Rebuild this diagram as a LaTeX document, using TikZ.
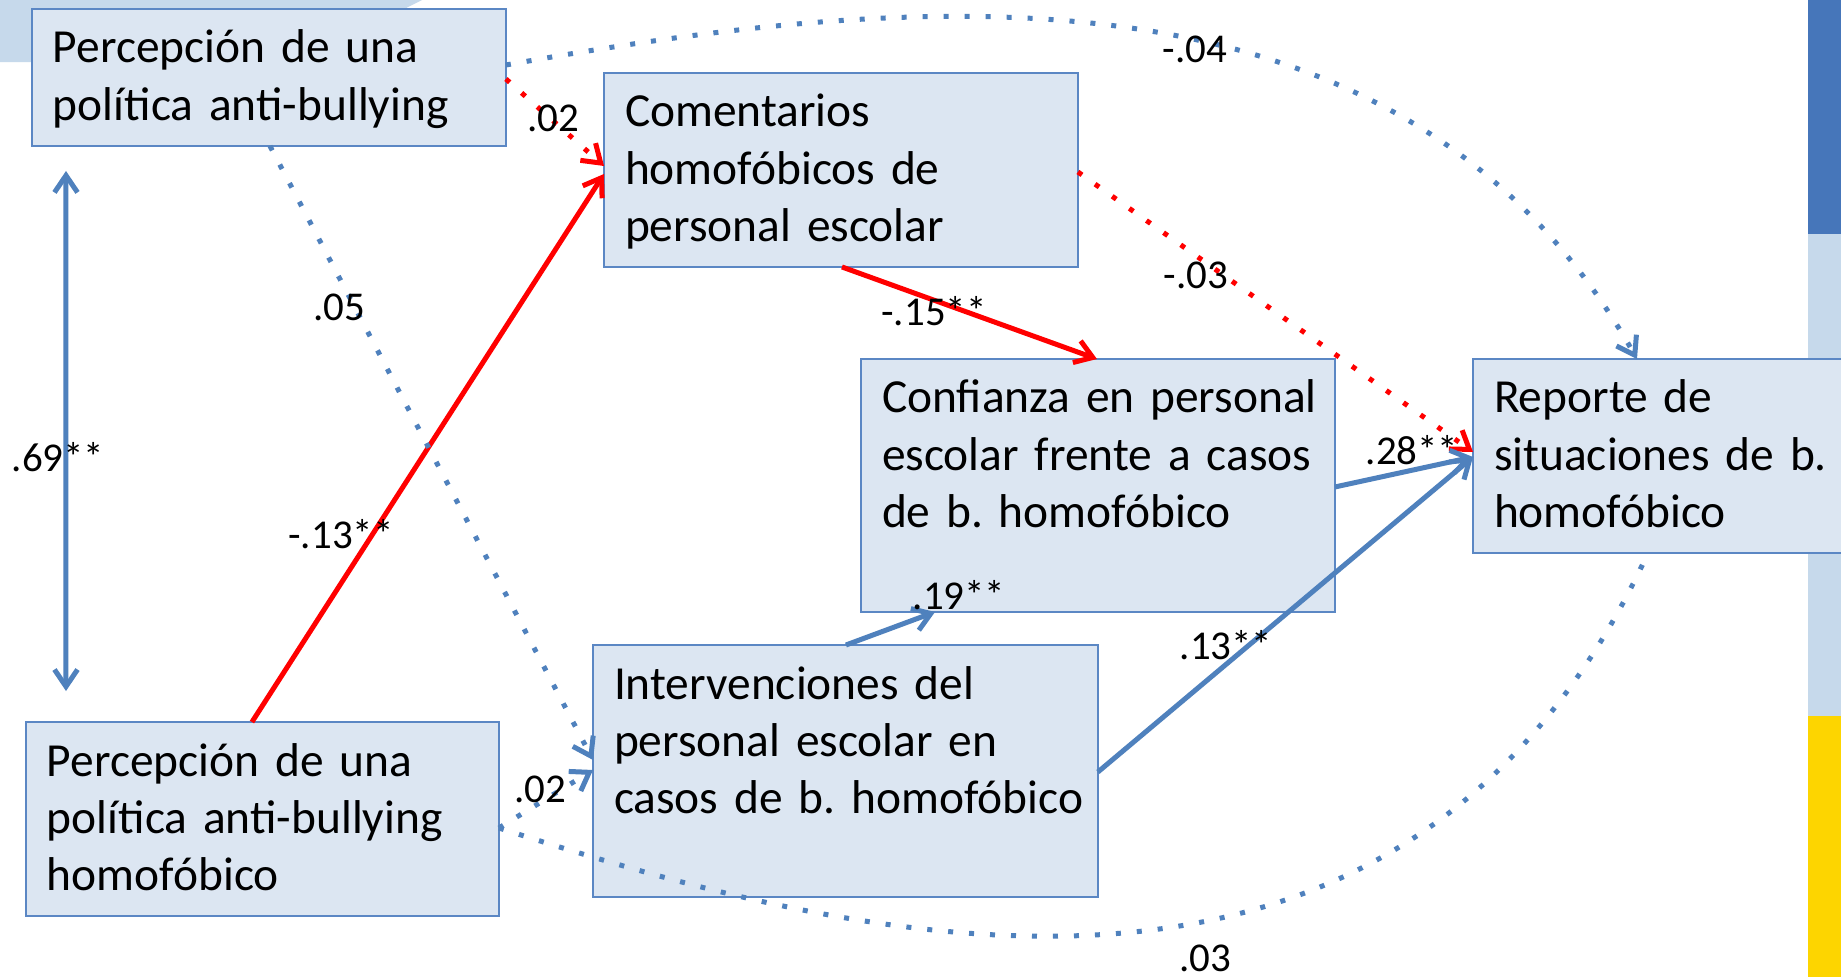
\documentclass[tikz,border=0pt]{standalone}
\usepackage{fontspec}
\setmainfont{Carlito}
\usetikzlibrary{arrows.meta}
\definecolor{boxfill}{HTML}{DCE6F2}
\definecolor{boxline}{HTML}{5B87C4}
\definecolor{pathblue}{HTML}{4F81BD}
\definecolor{pathred}{HTML}{FF0000}
\definecolor{bandblue}{HTML}{C6D9EB}
\definecolor{stripblue}{HTML}{4676BA}
\definecolor{stripyellow}{HTML}{FDD500}
\newcommand{\boxfont}{\fontsize{27}{32.7}\selectfont\frenchspacing}
\newcommand{\coeffont}{\fontsize{23.3}{28}\selectfont}
\newcommand{\boxline}[1]{\mbox{#1}}

\begin{document}
\begin{tikzpicture}[x=0.02cm,y=-0.02cm,>={Straight Barb[length=0.34cm,width=0.46cm]},
    pbox/.style={draw=boxline,fill=boxfill,line width=0.04cm,anchor=north west,align=left,inner xsep=0.42cm,inner ysep=0pt,outer sep=0pt,text height=1.08cm,font=\boxfont},
    coef/.style={inner sep=0pt,font=\coeffont},
    sig/.style={->,line width=0.1cm},
    nonsig/.style={->,line width=0.1cm,dash pattern=on 0.1cm off 0.32cm}]
            \useasboundingbox (0,0) rectangle (1841,977);
            \fill[white] (0,0) rectangle (1841,977);
            \fill[bandblue] (0,0) -- (422,0) -- (300,62) -- (0,62) -- cycle;
            \fill[stripblue] (1808,0) rectangle (1841,234);
            \fill[bandblue] (1808,234) rectangle (1841,716);
            \fill[stripyellow] (1808,716) rectangle (1841,977);

            \node[pbox,text width=8.64cm,text depth=1.66cm] (1) at (32,9) {\boxline{Percepción de una}\\\boxline{política anti-bullying}};
            \node[pbox,text width=8.64cm,text depth=2.8cm] (2) at (604,73) {\boxline{Comentarios}\\\boxline{homofóbicos de}\\\boxline{personal escolar}};
            \node[pbox,text width=8.64cm,text depth=3.98cm] (3) at (861,359) {\boxline{Confianza en personal}\\\boxline{escolar frente a casos}\\\boxline{de b. homofóbico}};
            \node[pbox,text width=9.26cm,text depth=3.96cm] (4) at (593,645) {\boxline{Intervenciones del}\\\boxline{personal escolar en}\\\boxline{casos de b. homofóbico}};
            \node[pbox,text width=6.9cm,text depth=2.8cm] (5) at (1473,359) {\boxline{Reporte de}\\\boxline{situaciones de b.}\\\boxline{homofóbico}};
            \node[pbox,text width=8.62cm,text depth=2.8cm] (6) at (26,722) {\boxline{Percepción de una}\\\boxline{política anti-bullying}\\\boxline{homofóbico}};

            \path[sig,color=pathred]
                ([xshift=4.52cm]6.north west) edge ([yshift=-2.02cm]2.north west)
                ([xshift=4.76cm]2.south west) edge ([xshift=4.72cm]3.north west)
            ;
            \path[nonsig,color=pathred]
                ([yshift=-1.4cm]1.north east) edge ([yshift=-1.86cm]2.north west)
                ([yshift=-1.98cm]2.north east) edge ([yshift=-1.86cm]5.north west)
            ;
            \path[sig,color=pathblue]
                ([yshift=-2.56cm]3.north east) edge ([yshift=-1.96cm]5.north west)
                ([yshift=-2.54cm]4.north east) edge ([yshift=-1.96cm]5.north west)
                ([xshift=5.06cm]4.north west) edge ([xshift=1.48cm]3.south west)
            ;
            \path[sig,color=pathblue,<->]
                ([xshift=0.68cm,yshift=-0.5cm]1.south west) edge ([xshift=0.8cm,yshift=0.62cm]6.north west)
            ;
            \path[nonsig,color=pathblue]
                ([xshift=4.76cm]1.south west) edge ([yshift=-2.3cm]4.north west)
                ([yshift=-2.12cm]6.north east) edge ([yshift=-2.5cm]4.north west)
            ;
            \draw[nonsig,color=pathblue] ([yshift=-1.12cm]1.north east) .. controls (900,-5) and (1400,-60) .. ([xshift=3.28cm]5.north west);
            \draw[nonsig,color=pathblue,-] ([yshift=-2.12cm]6.north east) .. controls (850,940) and (1400,1090) .. ([xshift=3.5cm]5.south west);

            \node[coef] (11) at (553,118) {.02};
            \node[coef] (12) at (339,307) {.05};
            \node[coef] (13) at (58,457) {.69**};
            \node[coef] (14) at (341,534) {-.13**};
            \node[coef] (15) at (1195,49) {-.04};
            \node[coef] (16) at (934,311) {-.15**};
            \node[coef] (17) at (1196,275) {-.03};
            \node[coef] (18) at (1412,450) {.28**};
            \node[coef] (19) at (959,595) {.19**};
            \node[coef] (20) at (1226,645) {.13**};
            \node[coef] (21) at (540,789) {.02};
            \node[coef] (22) at (1205,958) {.03};
\end{tikzpicture}
\end{document}
